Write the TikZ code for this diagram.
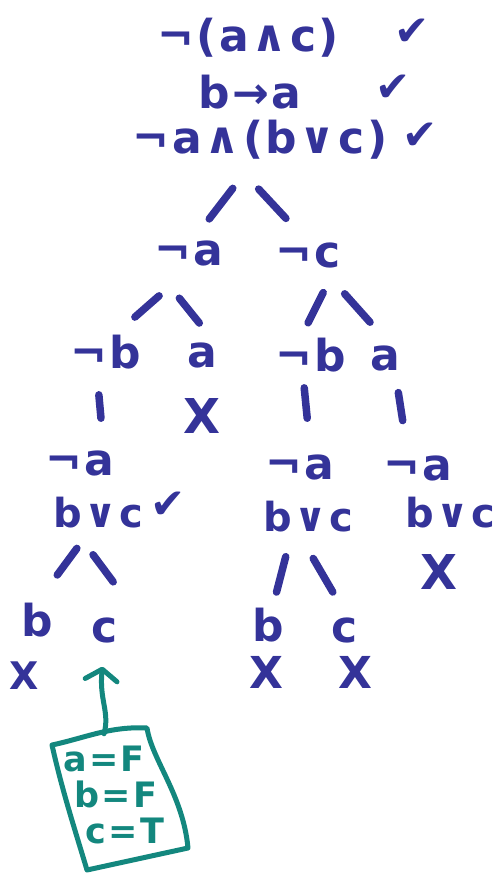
\documentclass[tikz,border=0pt]{standalone}
\usepackage{fontspec}
\setmainfont{DejaVu Sans}[LetterSpace=6]
\usepackage{xcolor}
\usetikzlibrary{arrows.meta}
\definecolor{ink}{HTML}{343399}
\definecolor{teal}{HTML}{13877E}

\begin{document}
\begin{tikzpicture}[x=1pt, y=-1pt,
  formula/.style={font=\fontsize{44}{52}\selectfont\bfseries, text=ink, inner sep=0pt},
  leaf/.style={formula, font=\fontsize{40}{48}\selectfont\bfseries},
  okmark/.style={font=\fontsize{42}{46}\selectfont, text=ink, inner sep=0pt},
  xmark/.style={font=\fontsize{46}{50}\selectfont\bfseries, text=ink, inner sep=0pt},
  branch/.style={draw=ink, line width=7.5pt, line cap=round},
  assign/.style={font=\fontsize{35}{38}\selectfont\bfseries, text=teal, inner sep=0pt},
  notebox/.style={draw=teal, line width=5pt, line cap=round, line join=round}]
  \useasboundingbox (0,0) rectangle (498,873);

  \node[formula] (f1) at (248,38) {¬(a∧c)};
  \node[formula] (f2) at (250,92) {b→a};
  \node[formula] (f3) at (260,140) {¬a∧(b∨c)};
  \foreach \n/\x/\y in {ok1/412/32, ok2/393/88, ok3/420/136, ok4/168/505}
    \node[okmark] (\n) at (\x,\y) {✔};

  \node[formula] (na) at (189,253) {¬a};
  \node[formula] (nc) at (308,255) {¬c};
  \node[formula] (nb1) at (106,352) {¬b};
  \node[formula] (a1) at (202,355) {a};
  \node[formula] (nb2) at (311,355) {¬b};
  \node[formula] (a2) at (385,358) {a};
  \node[formula] (na2) at (80,463) {¬a};
  \node[formula] (na3) at (300,467) {¬a};
  \node[formula] (na4) at (418,468) {¬a};
  \node[leaf] (bc1) at (98,513) {b∨c};
  \node[leaf] (bc2) at (308,517) {b∨c};
  \node[leaf] (bc3) at (450,513) {b∨c};
  \node[formula] (b1) at (37,620) {b};
  \node[formula] (c1) at (105,630) {c};
  \node[formula] (b2) at (268,625) {b};
  \node[formula] (c2) at (345,630) {c};

  \foreach \n/\x/\y/\s in {x1/202/416/48, x2/439/572/48, x3/24/676/38, x4/266/672/44, x5/355/672/44}
    \node[xmark, font=\fontsize{\s}{\s}\selectfont\bfseries] (\n) at (\x,\y) {X};

  \draw[branch, shorten <=61pt, shorten >=43pt] ([xshift=10pt]f3.center) -- ([xshift=-6pt]na.center);
  \draw[branch, shorten <=67pt, shorten >=50pt] ([xshift=-47pt]f3.center) -- ([xshift=12pt]nc.center);
  \draw[branch, shorten <=65pt, shorten >=53pt] ([xshift=19pt]na.center) -- ([xshift=-11pt]nb1.center);
  \draw[branch, shorten <=58pt, shorten >=41pt] ([xshift=-46pt]na.center) -- ([xshift=23pt]a1.center);
  \draw[branch, shorten <=42pt, shorten >=36pt] ([xshift=34pt]nc.center) -- ([xshift=-19pt]nb2.center);
  \draw[branch, shorten <=52pt, shorten >=48pt] ([xshift=2pt]nc.center) -- ([xshift=17pt]a2.center);
  \draw[branch, shorten <=43pt, shorten >=45pt] ([xshift=-11pt]nb1.center) -- ([xshift=25pt]na2.center);
  \draw[branch, shorten <=33pt, shorten >=49pt] ([xshift=-10pt]nb2.center) -- ([xshift=12pt]na3.center);
  \draw[branch, shorten <=35pt, shorten >=48pt] ([xshift=8pt]a2.center) -- ([xshift=-8pt]na4.center);
  \draw[branch, shorten <=44pt, shorten >=56pt] ([xshift=5pt]bc1.center) -- ([xshift=-13pt]b1.center);
  \draw[branch, shorten <=52pt, shorten >=60pt] ([xshift=-36pt]bc1.center) -- ([xshift=44pt]c1.center);
  \draw[branch, shorten <=41pt, shorten >=34pt] ([xshift=-12pt]bc2.center) -- (b2.center);
  \draw[branch, shorten <=48pt, shorten >=44pt] ([xshift=-19pt]bc2.center) -- ([xshift=10pt]c2.center);

  \draw[notebox] (52,745) .. controls (85,738) and (110,726) .. (147,728)
    .. controls (152,760) and (183,795) .. (188,848) -- (87,870)
    .. controls (75,830) and (62,790) .. cycle;
  \node[assign] (va) at (104,759) {a=F};
  \node[assign] (vb) at (116,794) {b=F};
  \node[assign] (vc) at (125,831) {c=T};
  \draw[notebox, -{Straight Barb[length=11pt, width=32pt, round]}, shorten >=24pt]
    ([yshift=12pt]va.north) .. controls (110,712) and (99,700) .. (c1.south);
\end{tikzpicture}
\end{document}
